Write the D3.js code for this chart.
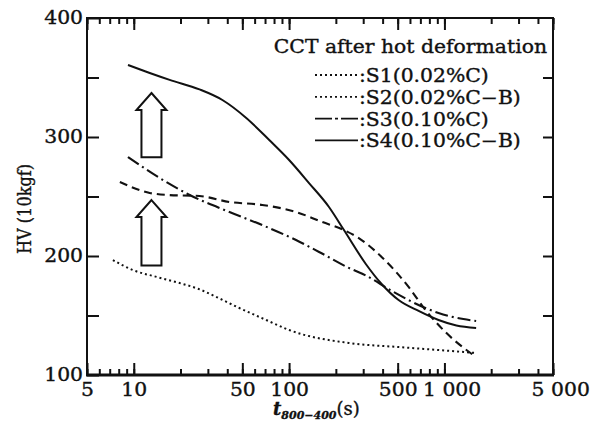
<!DOCTYPE html>
<html>
<head>
<meta charset="utf-8">
<script src="https://cdn.jsdelivr.net/npm/d3@7"></script>
<style>
  html, body { margin: 0; padding: 0; background: #fff; }
  svg { display: block; font-family: "DejaVu Serif", serif; }
</style>
</head>
<body>
<svg id="chart" width="600" height="428"></svg>
<script>
// Cooling time t(800-400) in seconds and hardness HV for each steel
const s1Time  = [7.34, 9.86, 14.05, 19.7, 26.5, 34.1, 47.8, 71.3, 100, 242, 507, 916, 1600];
const s1HV    = [196.6, 188.2, 182.4, 177.3, 172, 165.5, 156.3, 146.2, 137.8, 126.9, 123.5, 121, 118.5];

const s2Time  = [8.14, 12.67, 16.3, 26.5, 41.3, 67.1, 110.8, 163, 225.5, 281, 394, 588, 755, 1016, 1600];
const s2HV    = [262.2, 253, 251.3, 250.4, 245.4, 242.9, 237, 228.6, 221.8, 215.1, 199.2, 174, 154.6, 136, 115];

const s3Time  = [9.18, 14.7, 22.9, 41.3, 67.1, 110.8, 156, 242.5, 311.8, 458, 755, 916, 1324, 1600];
const s3HV    = [283.2, 265.5, 251.3, 237, 226, 213.4, 203.4, 190, 183.6, 170.6, 156.3, 152.1, 147, 145.4];

const s4Time  = [9.18, 12.67, 17.02, 26.5, 37.2, 53, 74.5, 100, 134.4, 180.6, 225.5, 311.8, 394, 507, 682, 916, 1194, 1600];
const s4HV    = [360.5, 353.8, 348, 340, 331.1, 316, 297.5, 280.7, 261.3, 241.2, 221.8, 193.3, 176.5, 163, 153.8, 146.2, 141.6, 139.5];

const seriesNames = ["S1(0.02%C)", "S2(0.02%C-B)", "S3(0.10%C)", "S4(0.10%C-B)"];
const legendTitle = "CCT after hot deformation";

const xLabelValues = [5, 10, 50, 100, 500, 1000, 5000];
const xLabelTexts  = ["5", "10", "50", "100", "500", "1 000", "5 000"];
const yTickValues  = [100, 150, 200, 250, 300, 350, 400];
const yLabelValues = [100, 200, 300, 400];

// Upward arrows: x position and HV span (base -> tip)
const arrowTime = [13, 13];
const arrowBase = [283, 192];
const arrowTip  = [337, 247];

const svg = d3.select("#chart");
const L = 87, R = 553, T = 18, B = 375;

const x = d3.scaleLog().domain([5, 5000]).range([L, R]);
const y = d3.scaleLinear().domain([100, 400]).range([B, T]);

const ink = "#111";

// minor ticks on all four sides (inward)
const allXTicks = x.ticks();
const bottomMinor = d3.axisBottom(x).tickValues(allXTicks).tickSize(-6).tickFormat("");
const topMinor = d3.axisTop(x).tickValues(allXTicks).tickSize(-6).tickFormat("");
const bottomMajor = d3.axisBottom(x).tickValues(xLabelValues).tickSize(-12).tickPadding(8)
  .tickFormat((d, i) => xLabelTexts[i]);
const topMajor = d3.axisTop(x).tickValues(xLabelValues).tickSize(-12).tickFormat("");
const leftAxis = d3.axisLeft(y).tickValues(yTickValues).tickSize(-12).tickPadding(4)
  .tickFormat(d => yLabelValues.includes(d) ? String(d) : "");
const rightAxis = d3.axisRight(y).tickValues(yTickValues.filter(v => v > 100 && v < 400))
  .tickSize(-10).tickFormat("");

function styleAxis(g) {
  g.select(".domain").remove();
  g.selectAll(".tick line").attr("stroke", ink).attr("stroke-width", 2);
  g.selectAll(".tick text").attr("fill", ink).attr("font-size", 18)
    .attr("font-family", "DejaVu Serif, serif");
}

svg.append("g").attr("transform", `translate(0,${B})`).call(bottomMinor).call(styleAxis);
svg.append("g").attr("transform", `translate(0,${B})`).call(bottomMajor).call(styleAxis)
  .selectAll(".tick text").attr("dx", (d, i) => xLabelTexts[i].includes(" ") ? "0.4em" : 0);
svg.append("g").attr("transform", `translate(0,${T})`).call(topMinor).call(styleAxis);
svg.append("g").attr("transform", `translate(0,${T})`).call(topMajor).call(styleAxis);
svg.append("g").attr("transform", `translate(${L},0)`).call(leftAxis).call(styleAxis);
svg.append("g").attr("transform", `translate(${R},0)`).call(rightAxis).call(styleAxis);

// frame
svg.append("rect").attr("x", L).attr("y", T).attr("width", R - L).attr("height", B - T)
  .attr("fill", "none").attr("stroke", ink).attr("stroke-width", 2);
svg.append("line").attr("x1", L - 1).attr("x2", R + 1).attr("y1", B).attr("y2", B)
  .attr("stroke", ink).attr("stroke-width", 3);

// series
const series = [
  { t: s1Time, v: s1HV, dash: "2,3", w: 2 },
  { t: s2Time, v: s2HV, dash: "8,5", w: 2.1 },
  { t: s3Time, v: s3HV, dash: "13,4,2,4", w: 2.1 },
  { t: s4Time, v: s4HV, dash: null, w: 2 }
];
const line = d3.line().curve(d3.curveMonotoneX);
series.forEach(s => {
  const pts = s.t.map((t, i) => [x(t), y(s.v[i])]);
  svg.append("path").attr("d", line(pts)).attr("fill", "none")
    .attr("stroke", ink).attr("stroke-width", s.w)
    .attr("stroke-dasharray", s.dash);
});

// hollow up arrows
arrowTime.forEach((t, i) => {
  const cx = x(t), yb = y(arrowBase[i]), yt = y(arrowTip[i]);
  const sw = 10, hw = 15, hh = 17;
  const pts = [[cx, yt], [cx + hw, yt + hh], [cx + sw, yt + hh], [cx + sw, yb],
               [cx - sw, yb], [cx - sw, yt + hh], [cx - hw, yt + hh]];
  svg.append("polygon").attr("points", pts.map(p => p.join(",")).join(" "))
    .attr("fill", "#fff").attr("stroke", ink).attr("stroke-width", 2);
});

// legend
const lg = svg.append("g");
lg.append("text").attr("class", "wide").attr("x", 547).attr("y", 53).attr("text-anchor", "end")
  .attr("font-size", 18).attr("fill", ink).text(legendTitle);
const legendDash = ["2,3", "2,3", "17,3,3,3,17", null];
seriesNames.forEach((name, i) => {
  const by = 82 + i * 21.8;
  lg.append("line").attr("x1", 315).attr("x2", 358).attr("y1", by - 7).attr("y2", by - 7)
    .attr("stroke", ink).attr("stroke-width", 1.8).attr("stroke-dasharray", legendDash[i]);
  lg.append("text").attr("class", "wide").attr("x", 359).attr("y", by)
    .attr("font-size", 18).attr("fill", ink)
    .text(":" + name.replace("-", "\u2212"));
});
svg.selectAll(".tick text").classed("wide", true);

// axis titles
svg.append("text")
  .attr("transform", "translate(31,209) rotate(-90)")
  .attr("text-anchor", "middle").attr("font-size", 18).attr("fill", ink)
  .attr("textLength", 90).attr("lengthAdjust", "spacingAndGlyphs")
  .text("HV (10kgf)");

const xt = svg.append("text").attr("x", 273).attr("y", 415).attr("fill", ink).attr("font-size", 18);
xt.append("tspan").attr("font-style", "italic").attr("font-weight", "bold").text("t");
xt.append("tspan").attr("font-size", 11).attr("font-style", "italic").attr("font-weight", "bold")
  .attr("dy", 4).text("800\u2212400");
xt.append("tspan").attr("dy", -4).text("(s)");

// the printed typeface is wider and heavier than DejaVu Serif: stretch and thicken the glyphs
svg.selectAll("text.wide").each(function () {
  const w = this.getComputedTextLength();
  d3.select(this).attr("textLength", w * 1.13).attr("lengthAdjust", "spacingAndGlyphs");
});
svg.selectAll("text").attr("stroke", ink).attr("stroke-width", 0.35);
</script>
</body>
</html>
